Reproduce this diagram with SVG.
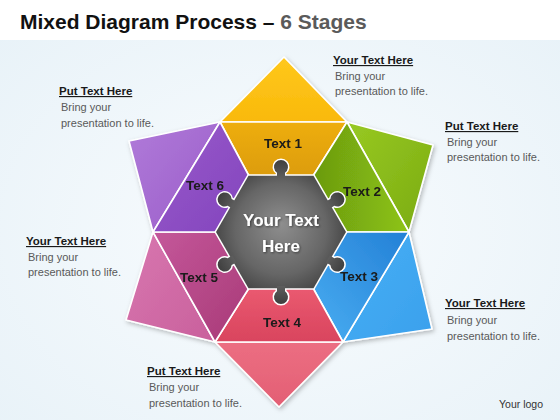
<svg xmlns="http://www.w3.org/2000/svg" xmlns:xlink="http://www.w3.org/1999/xlink" width="560" height="420" viewBox="0 0 560 420">
<style>
.title{font-family:"Liberation Sans",Arial,sans-serif;font-weight:bold;font-size:21px;fill:#111}
.sub{fill:#5a5a5a}
.head{font-family:"Liberation Sans",Arial,sans-serif;font-weight:bold;font-size:11.5px;fill:#1a1a1a;text-decoration:underline}
.body{font-family:"Liberation Sans",Arial,sans-serif;font-size:11px;fill:#595959}
.lbl{font-family:"Liberation Sans",Arial,sans-serif;font-weight:bold;font-size:13.5px;fill:#1a1a1a;text-anchor:middle}
.ctr{font-family:"Liberation Sans",Arial,sans-serif;font-weight:bold;font-size:17px;fill:#fff;text-anchor:middle}
.piece{stroke:#fff;stroke-width:1.6;stroke-linejoin:round}
.logo{font-family:"Liberation Sans",Arial,sans-serif;font-size:10.5px;fill:#333}
</style>
<defs>
<radialGradient id="bg" cx="0.5" cy="0.55" r="0.7">
<stop offset="0" stop-color="#f9fcfe"/><stop offset="1" stop-color="#e8f2f8"/>
</radialGradient>
<linearGradient id="g1o" x1="0" y1="0" x2="0" y2="1"><stop offset="0" stop-color="#ffc81c"/><stop offset="1" stop-color="#f9b90b"/></linearGradient>
<linearGradient id="g1i" x1="0" y1="0" x2="0" y2="1"><stop offset="0" stop-color="#eeae0e"/><stop offset="1" stop-color="#dc9c07"/></linearGradient>
<linearGradient id="g2o" x1="0" y1="0" x2="1" y2="1"><stop offset="0" stop-color="#98c922"/><stop offset="1" stop-color="#7aab12"/></linearGradient>
<linearGradient id="g2i" x1="0" y1="0" x2="1" y2="0"><stop offset="0" stop-color="#6a9a10"/><stop offset="1" stop-color="#8ec414"/></linearGradient>
<linearGradient id="g3o" x1="0" y1="0" x2="1" y2="1"><stop offset="0" stop-color="#48b0f6"/><stop offset="1" stop-color="#3aa0ec"/></linearGradient>
<linearGradient id="g3i" x1="1" y1="0" x2="0" y2="1"><stop offset="0" stop-color="#2380d6"/><stop offset="1" stop-color="#4aaef2"/></linearGradient>
<linearGradient id="g4o" x1="0" y1="0" x2="0" y2="1"><stop offset="0" stop-color="#ec6e82"/><stop offset="1" stop-color="#e35f74"/></linearGradient>
<linearGradient id="g4i" x1="0" y1="0" x2="0" y2="1"><stop offset="0" stop-color="#ea5a70"/><stop offset="1" stop-color="#d9445e"/></linearGradient>
<linearGradient id="g5o" x1="0" y1="0" x2="1" y2="1"><stop offset="0" stop-color="#d877b0"/><stop offset="1" stop-color="#c9609c"/></linearGradient>
<linearGradient id="g5i" x1="0" y1="0" x2="1" y2="1"><stop offset="0" stop-color="#c4579a"/><stop offset="1" stop-color="#a83a77"/></linearGradient>
<linearGradient id="g6o" x1="0" y1="0" x2="1" y2="1"><stop offset="0" stop-color="#b07ad9"/><stop offset="1" stop-color="#9a5dc9"/></linearGradient>
<linearGradient id="g6i" x1="0" y1="0" x2="1" y2="1"><stop offset="0" stop-color="#9a5acb"/><stop offset="1" stop-color="#8245bd"/></linearGradient>
<radialGradient id="gray" gradientUnits="userSpaceOnUse" cx="0" cy="0" r="76" fx="0" fy="-8">
<stop offset="0" stop-color="#8e8e8e"/><stop offset="0.6" stop-color="#666"/><stop offset="1" stop-color="#383838"/>
</radialGradient>
<filter id="sh" x="-10%" y="-10%" width="125%" height="125%">
<feDropShadow dx="1.5" dy="2" stdDeviation="2" flood-color="#000" flood-opacity="0.25"/>
</filter>
<filter id="tsh" x="-10%" y="-20%" width="130%" height="150%">
<feDropShadow dx="1" dy="1" stdDeviation="0.8" flood-color="#000" flood-opacity="0.5"/>
</filter>
<path id="knob" d="M-4,-54 L-4,-59.3 A7,7 0 1 1 4,-59.3 L4,-54 Z"/>
<g id="gear">
<polygon points="65,0 32.5,56.3 -32.5,56.3 -65,0 -32.5,-56.3 32.5,-56.3"/>
<use xlink:href="#knob"/>
<use xlink:href="#knob" transform="rotate(60)"/>
<use xlink:href="#knob" transform="rotate(120)"/>
<use xlink:href="#knob" transform="rotate(180)"/>
<use xlink:href="#knob" transform="rotate(240)"/>
<use xlink:href="#knob" transform="rotate(300)"/>
</g>
</defs>

<rect x="0" y="0" width="560" height="420" fill="url(#bg)"/>
<rect x="0" y="0" width="560" height="40" fill="#ffffff"/>

<text class="title" x="20" y="29">Mixed Diagram Process – <tspan class="sub">6 Stages</tspan></text>

<g id="star" filter="url(#sh)">
<g id="stage1">
<polygon class="piece" points="220,122 284,57 347,122" fill="url(#g1o)"/>
<polygon class="piece" points="220,122 347,122 313,176 249,176" fill="url(#g1i)"/>
<text class="lbl" x="283" y="148">Text 1</text>
</g>
<g id="stage2">
<polygon class="piece" points="347,122 433,145 409,232" fill="url(#g2o)"/>
<polygon class="piece" points="347,122 409,232 346,232 313,176" fill="url(#g2i)"/>
<text class="lbl" x="362" y="196">Text 2</text>
</g>
<g id="stage3">
<polygon class="piece" points="409,232 432,329 343,342" fill="url(#g3o)"/>
<polygon class="piece" points="409,232 343,342 313,288 346,232" fill="url(#g3i)"/>
<text class="lbl" x="359" y="281">Text 3</text>
</g>
<g id="stage4">
<polygon class="piece" points="343,342 279,407 215,342" fill="url(#g4o)"/>
<polygon class="piece" points="343,342 215,342 249,288 313,288" fill="url(#g4i)"/>
<text class="lbl" x="282" y="327">Text 4</text>
</g>
<g id="stage5">
<polygon class="piece" points="215,342 126,320 153,232" fill="url(#g5o)"/>
<polygon class="piece" points="215,342 153,232 216,232 249,288" fill="url(#g5i)"/>
<text class="lbl" x="199" y="282">Text 5</text>
</g>
<g id="stage6">
<polygon class="piece" points="153,232 129,141 220,122" fill="url(#g6o)"/>
<polygon class="piece" points="153,232 220,122 249,176 216,232" fill="url(#g6i)"/>
<text class="lbl" x="205" y="190">Text 6</text>
</g>
</g>

<g id="center" transform="translate(281,232)">
<use xlink:href="#gear" fill="url(#gray)" stroke="#ffffff" stroke-width="3" stroke-linejoin="round"/>
<use xlink:href="#gear" fill="url(#gray)" stroke="none"/>
<g filter="url(#tsh)">
<text class="ctr" x="0" y="-6">Your Text</text>
<text class="ctr" x="0" y="20">Here</text>
</g>
</g>

<g id="callout-top-right">
<text class="head" x="333" y="64">Your Text Here</text>
<text class="body" x="335" y="80">Bring your</text>
<text class="body" x="335" y="95">presentation to life.</text>
</g>
<g id="callout-top-left">
<text class="head" x="59" y="95">Put Text Here</text>
<text class="body" x="61" y="111">Bring your</text>
<text class="body" x="61" y="127">presentation to life.</text>
</g>
<g id="callout-right-upper">
<text class="head" x="445" y="130">Put Text Here</text>
<text class="body" x="447" y="146">Bring your</text>
<text class="body" x="447" y="161">presentation to life.</text>
</g>
<g id="callout-left">
<text class="head" x="26" y="245">Your Text Here</text>
<text class="body" x="28" y="261">Bring your</text>
<text class="body" x="28" y="276">presentation to life.</text>
</g>
<g id="callout-right-lower">
<text class="head" x="445" y="307">Your Text Here</text>
<text class="body" x="447" y="324">Bring your</text>
<text class="body" x="447" y="340">presentation to life.</text>
</g>
<g id="callout-bottom">
<text class="head" x="147" y="375">Put Text Here</text>
<text class="body" x="149" y="391">Bring your</text>
<text class="body" x="149" y="407">presentation to life.</text>
</g>

<text class="logo" x="499" y="408">Your logo</text>
</svg>
